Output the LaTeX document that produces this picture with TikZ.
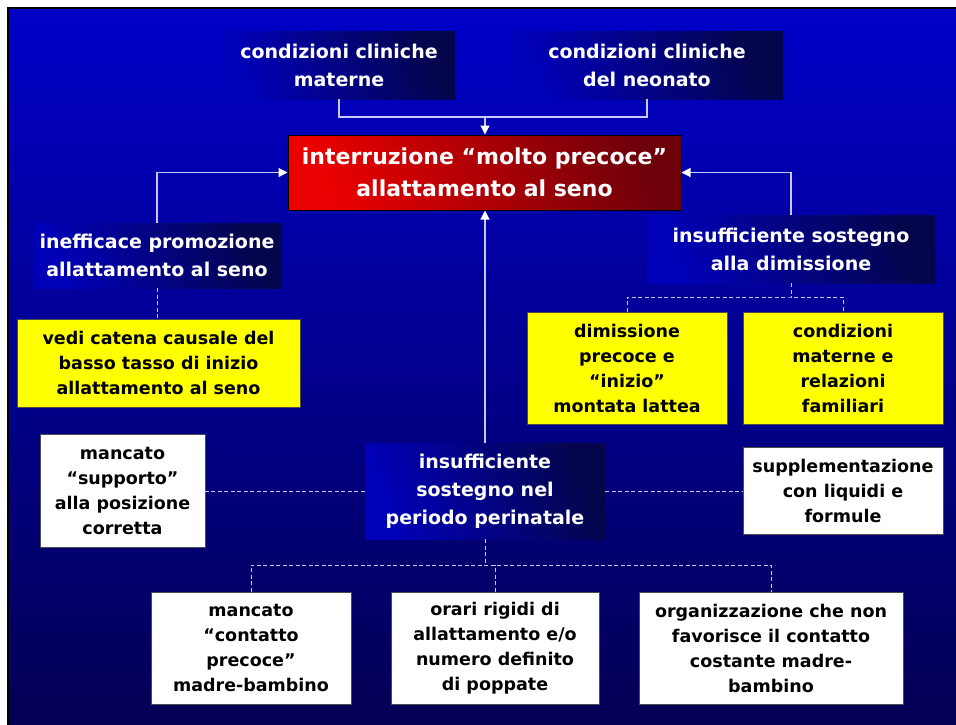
\documentclass[tikz,border=0pt]{standalone}
\usepackage{fontspec}
\setmainfont{DejaVu Sans}
\usetikzlibrary{arrows.meta,calc}
\definecolor{bgtop}{RGB}{0,0,200}
\definecolor{bgbot}{RGB}{4,0,82}
\definecolor{dkA}{RGB}{0,0,185}
\definecolor{dkB}{RGB}{5,5,75}
\definecolor{rdA}{RGB}{235,0,0}
\definecolor{rdB}{RGB}{110,0,10}
\definecolor{ylw}{RGB}{255,255,0}
\definecolor{lnc}{RGB}{200,200,255}
\tikzset{
  darkbox/.style={draw=none, left color=dkA, right color=dkB, shading angle=110, text=white,
    font=\fontsize{19}{28}\selectfont\bfseries, align=center, inner sep=0pt},
  redbox/.style={draw=black, line width=1pt, shading=axis, left color=rdA, right color=rdB, shading angle=110,
    text=white, font=\fontsize{22}{32}\selectfont\bfseries, align=center, inner sep=0pt},
  yelbox/.style={draw=black!70, line width=0.8pt, fill=ylw, text=black,
    font=\fontsize{17.5}{25}\selectfont\bfseries, align=center, inner sep=0pt},
  whtbox/.style={draw=black!70, line width=0.8pt, fill=white, text=black,
    font=\fontsize{17.5}{25}\selectfont\bfseries, align=center, inner sep=0pt},
  conn/.style={draw=lnc, line width=1.2pt},
  arr/.style={conn, -{Triangle[length=9pt,width=9pt,fill=white,color=white]}},
  dconn/.style={draw=lnc, line width=1pt, dash pattern=on 4pt off 2.5pt},
}
\begin{document}
\begin{tikzpicture}[x=1pt,y=-1pt]
\useasboundingbox (0,0) rectangle (956,724);
\fill[white] (0,0) rectangle (956,724);
\fill[black] (7,7) rectangle (966,734);
\shade[top color=bgtop, bottom color=bgbot] (9.5,9.5) rectangle (966,734);

\node[darkbox, minimum width=232pt, minimum height=68pt] (A) at (339,65) {condizioni cliniche\\materne};
\node[darkbox, minimum width=272pt, minimum height=68pt] (B) at (647,65) {condizioni cliniche\\del neonato};
\node[redbox, minimum width=393pt, minimum height=75pt] (R) at (484.5,172.5) {interruzione “molto precoce”\\allattamento al seno};
\node[darkbox, minimum width=248pt, minimum height=65pt] (L) at (157,255.5) {inefficace promozione\\allattamento al seno};
\node[darkbox, minimum width=288pt, minimum height=68pt] (Rd) at (791,249) {insufficiente sostegno\\alla dimissione};
\node[yelbox, minimum width=283pt, minimum height=88pt] (Y1) at (158.5,363) {vedi catena causale del\\basso tasso di inizio\\allattamento al seno};
\node[yelbox, minimum width=200pt, minimum height=112pt] (Y2) at (627,368) {dimissione\\precoce e\\“inizio”\\montata lattea};
\node[yelbox, minimum width=200pt, minimum height=112pt] (Y3) at (843,368) {condizioni\\materne e\\relazioni\\familiari};
\node[darkbox, minimum width=240pt, minimum height=96pt] (C) at (485,491) {insufficiente\\sostegno nel\\periodo perinatale};
\node[whtbox, minimum width=165pt, minimum height=113pt] (W1) at (122.5,490.5) {mancato\\“supporto”\\alla posizione\\corretta};
\node[whtbox, minimum width=200pt, minimum height=87pt] (W2) at (843,490.5) {supplementazione\\con liquidi e\\formule};
\node[whtbox, minimum width=200pt, minimum height=112pt] (B1) at (251,648) {mancato\\“contatto\\precoce”\\madre-bambino};
\node[whtbox, minimum width=208pt, minimum height=112pt] (B2) at (495,648) {orari rigidi di\\allattamento e/o\\numero definito\\di poppate};
\node[whtbox, minimum width=264pt, minimum height=112pt] (B3) at (771,648) {organizzazione che non\\favorisce il contatto\\costante madre-\\bambino};

% top connectors
\coordinate (j1) at (485,117);
\draw[conn] (A.south) |- (j1);
\draw[conn] (B.south) |- (j1);
\draw[arr] (j1) -- (j1|-R.north);
\draw[arr] (L.north) |- (R.west);
\draw[arr] (Rd.north) |- (R.east);
\draw[arr] (C.north) -- (C.north|-R.south);

% dashed connectors
\draw[dconn] (L.south) -- (L.south|-Y1.north);
\coordinate (j2) at (791,297);
\draw[dconn] (Rd.south) -- (j2);
\draw[dconn] (Y2.north) |- (j2) -| (Y3.north);
\draw[dconn] (C.west) -- (C.west-|W1.east);
\draw[dconn] (C.east) -- (C.east-|W2.west);
\coordinate (j3) at (485,565);
\draw[dconn] (C.south) -- (j3);
\draw[dconn] (B1.north) |- (j3) -| (B3.north);
\draw[dconn] (B2.north) -- (B2.north|-j3);
\end{tikzpicture}
\end{document}
